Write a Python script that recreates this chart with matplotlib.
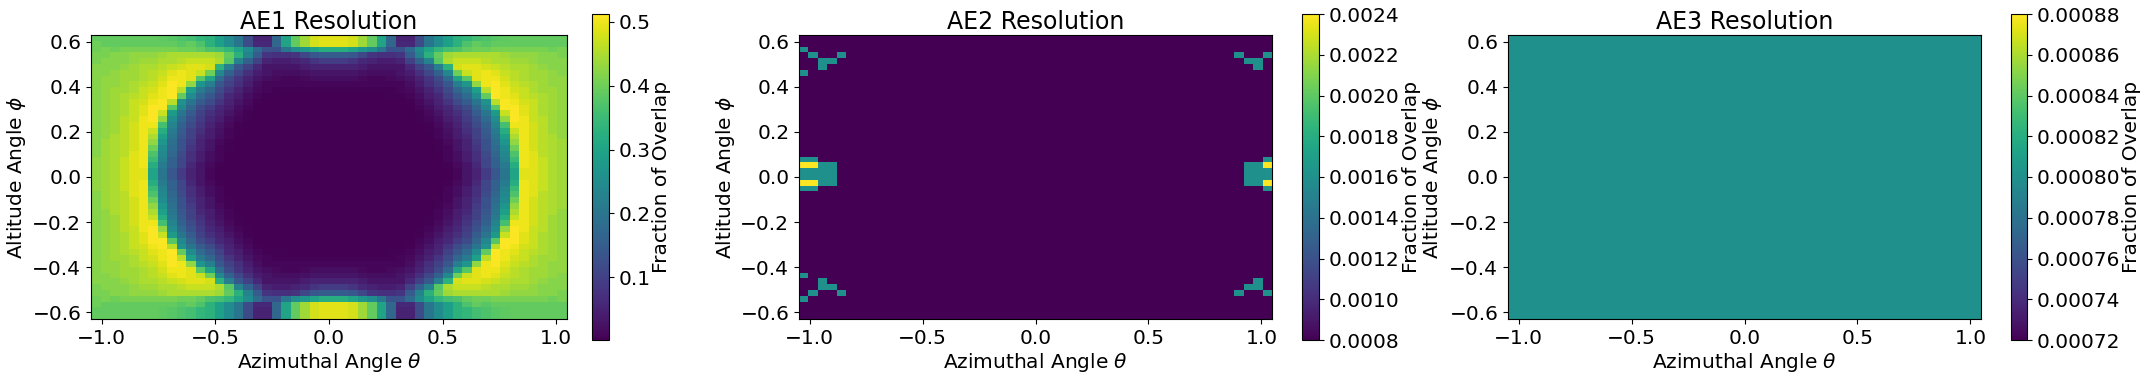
import numpy as np
import matplotlib
matplotlib.use('Agg')
import matplotlib.pyplot as plt

titles = ['AE1 Resolution', 'AE2 Resolution', 'AE3 Resolution']
xticks = [-1.0, -0.5, 0.0, 0.5, 1.0]
yticks = [-0.6, -0.4, -0.2, 0.0, 0.2, 0.4, 0.6]
ae1_cticks = [0.1, 0.2, 0.3, 0.4, 0.5]
ae2_cticks = [0.0008, 0.0010, 0.0012, 0.0014, 0.0016, 0.0018, 0.0020, 0.0022, 0.0024]
ae3_cticks = [0.00072, 0.00074, 0.00076, 0.00078, 0.00080, 0.00082, 0.00084, 0.00086, 0.00088]

# AE1 top left quarter (rows top to centre, cols left to centre)
ae1_quarter = [
    [.39,.39,.39,.39,.39,.39,.39,.385,.38,.37,.36,.34,.33,.29,.25,.20,.12,.05,.05,.17,.30,.39,.44,.48,.49],
    [.40,.39,.39,.39,.39,.39,.39,.39,.39,.38,.39,.37,.33,.29,.25,.20,.12,.06,.06,.17,.30,.39,.44,.48,.49],
    [.40,.41,.40,.41,.41,.41,.41,.41,.41,.40,.40,.39,.37,.36,.34,.30,.25,.18,.13,.13,.20,.25,.27,.30,.32],
    [.41,.41,.42,.42,.43,.43,.43,.44,.45,.45,.45,.45,.45,.44,.39,.33,.23,.15,.08,.07,.07,.08,.11,.14,.15],
    [.41,.42,.42,.42,.43,.44,.44,.45,.45,.46,.47,.47,.47,.45,.38,.23,.16,.10,.05,.04,.04,.05,.06,.08,.09],
    [.42,.42,.42,.43,.44,.45,.45,.46,.47,.48,.49,.49,.48,.33,.22,.14,.10,.06,.03,.03,.03,.03,.04,.05,.05],
    [.42,.42,.43,.44,.44,.45,.46,.47,.49,.50,.49,.47,.40,.24,.16,.11,.07,.04,.03,.02,.02,.02,.025,.03,.03],
    [.42,.43,.43,.44,.44,.45,.46,.48,.50,.50,.49,.38,.30,.18,.12,.08,.05,.03,.02,.015,.01,.01,.015,.02,.02],
    [.42,.43,.43,.44,.45,.46,.47,.49,.51,.50,.43,.27,.22,.14,.10,.07,.04,.02,.01,.01,.01,.01,.01,.01,.01],
    [.42,.43,.44,.44,.45,.47,.48,.50,.51,.46,.29,.21,.17,.12,.08,.05,.03,.015,.01,.005,.005,.005,.005,.005,.005],
    [.42,.43,.44,.45,.46,.47,.49,.50,.5125,.39,.25,.18,.14,.10,.06,.04,.02,.01,.005,.005,.003,.003,.003,.003,.003],
    [.42,.43,.44,.45,.47,.48,.50,.51,.46,.26,.20,.15,.12,.08,.05,.03,.015,.005,.003,.003,.003,.003,.003,.003,.003],
    [.42,.43,.44,.45,.47,.49,.51,.51,.38,.24,.17,.12,.09,.06,.04,.02,.01,.003,.003,.002,.002,.002,.002,.002,.002],
    [.42,.43,.44,.45,.47,.49,.51,.47,.28,.20,.15,.10,.07,.05,.03,.015,.005,.003,.002,.002,.002,.002,.002,.002,.002],
    [.42,.43,.44,.46,.47,.50,.51,.43,.25,.18,.13,.09,.06,.04,.02,.01,.005,.002,.002,.002,.002,.002,.002,.002,.002],
    [.42,.43,.44,.46,.48,.50,.50,.36,.23,.16,.12,.08,.05,.03,.015,.005,.002,.002,.002,.002,.002,.002,.002,.002,.002],
    [.42,.43,.44,.46,.48,.50,.47,.32,.21,.15,.10,.07,.04,.025,.01,.005,.002,.002,.002,.002,.002,.002,.002,.002,.002],
    [.42,.43,.45,.46,.48,.50,.45,.29,.20,.14,.10,.06,.04,.02,.01,.003,.002,.002,.002,.002,.002,.002,.002,.002,.002],
    [.42,.44,.45,.46,.48,.50,.43,.27,.19,.13,.09,.05,.03,.015,.005,.003,.002,.002,.002,.002,.002,.002,.002,.002,.002],
    [.42,.44,.45,.46,.48,.50,.40,.25,.18,.13,.08,.05,.03,.01,.005,.002,.002,.002,.002,.002,.002,.002,.002,.002,.002],
    [.42,.44,.45,.46,.49,.50,.37,.24,.17,.12,.07,.04,.02,.01,.003,.002,.002,.002,.002,.002,.002,.002,.002,.002,.002],
    [.43,.44,.45,.47,.49,.50,.35,.23,.16,.11,.07,.04,.02,.01,.003,.002,.002,.002,.002,.002,.002,.002,.002,.002,.002],
    [.43,.44,.45,.47,.49,.50,.32,.21,.16,.11,.06,.03,.015,.005,.002,.002,.002,.002,.002,.002,.002,.002,.002,.002,.002],
    [.43,.44,.45,.47,.49,.49,.30,.20,.14,.09,.05,.03,.01,.003,.002,.0013,.0013,.0013,.0013,.0013,.0013,.0013,.0013,.0013,.0013],
]
ae1_top = [row + [row[24]] + row[24:0:-1] for row in ae1_quarter]
ae1 = np.array(ae1_top + ae1_top[::-1] + ae1_top[:1])

# AE2 only has something near the left and right edges: first 5 / last 4 columns per row
ae2_levels = {'.': 0.0008, 'm': 0.0016, 'y': 0.0024}
ae2_edges = {
    2: ('m....', '....'), 3: ('.m..m', 'm..m'), 4: ('..mm.', '.mm.'), 5: ('..m..', '..m.'), 6: ('m....', '....'),
    21: ('mm...', '...m'), 22: ('yymm.', '.mmy'), 23: ('mmmm.', '.mmm'), 24: ('mmmm.', '.mmm'),
    25: ('yymm.', '.mmy'), 26: ('mm...', '...m'),
    41: ('m....', '....'), 42: ('..m..', '..m.'), 43: ('..mm.', '.mm.'), 44: ('.m..m', 'm..m'), 45: ('m....', '....'),
}
ae2 = np.full(ae1.shape, ae2_levels['.'])
for r in ae2_edges:
    left, right = ae2_edges[r]
    ae2[r, :5] = [ae2_levels[c] for c in left]
    ae2[r, -4:] = [ae2_levels[c] for c in right]

ae3_value = 0.0008
ae3 = np.full(ae1.shape, ae3_value)

W, H = 2146, 379
plt.rcParams['font.size'] = 14.5
fig = plt.figure(figsize=(W/100, H/100), dpi=100)

def box(x0, x1, y0, y1):
    return [x0/W, 1-y1/H, (x1-x0)/W, (y1-y0)/H]

data = [ae1, ae2, ae3]
limits = [(0.0013, 0.5125), (0.0008, 0.0024), (0.00072, 0.00088)]
cticks = [ae1_cticks, ae2_cticks, ae3_cticks]
ax_x = [(91, 567), (799, 1272), (1508, 1981)]
cb_x = [(592, 609), (1302, 1319), (2011, 2027)]
ylabel_x = [28, 737, 1444]
clabel_x = [652, 1402, 2122]

for i in range(3):
    ax = fig.add_axes(box(ax_x[i][0], ax_x[i][1], 35, 319))
    im = ax.imshow(data[i], cmap='viridis', vmin=limits[i][0], vmax=limits[i][1],
                   extent=[-1.047, 1.047, -0.63, 0.63], aspect='auto', interpolation='nearest')
    ax.set_xticks(xticks)
    ax.set_yticks(yticks)
    ax.set_title(titles[i], fontsize=17, pad=4)
    ax.set_xlabel(r'Azimuthal Angle $\theta$', labelpad=2)
    ax.set_ylabel(r'Altitude Angle $\phi$')
    ax.yaxis.set_label_coords((ylabel_x[i]-ax_x[i][0])/(ax_x[i][1]-ax_x[i][0]), 0.5)

    cax = fig.add_axes(box(cb_x[i][0], cb_x[i][1], 14, 340))
    cb = fig.colorbar(im, cax=cax, ticks=cticks[i])
    if i > 0:
        cb.ax.set_yticklabels(['%.4f' % t if i == 1 else '%.5f' % t for t in cticks[i]])
    cb.set_label('Fraction of Overlap')
    cax.yaxis.set_label_coords((clabel_x[i]-cb_x[i][0])/(cb_x[i][1]-cb_x[i][0]), 0.5)

fig.savefig('out.png', dpi=100)
